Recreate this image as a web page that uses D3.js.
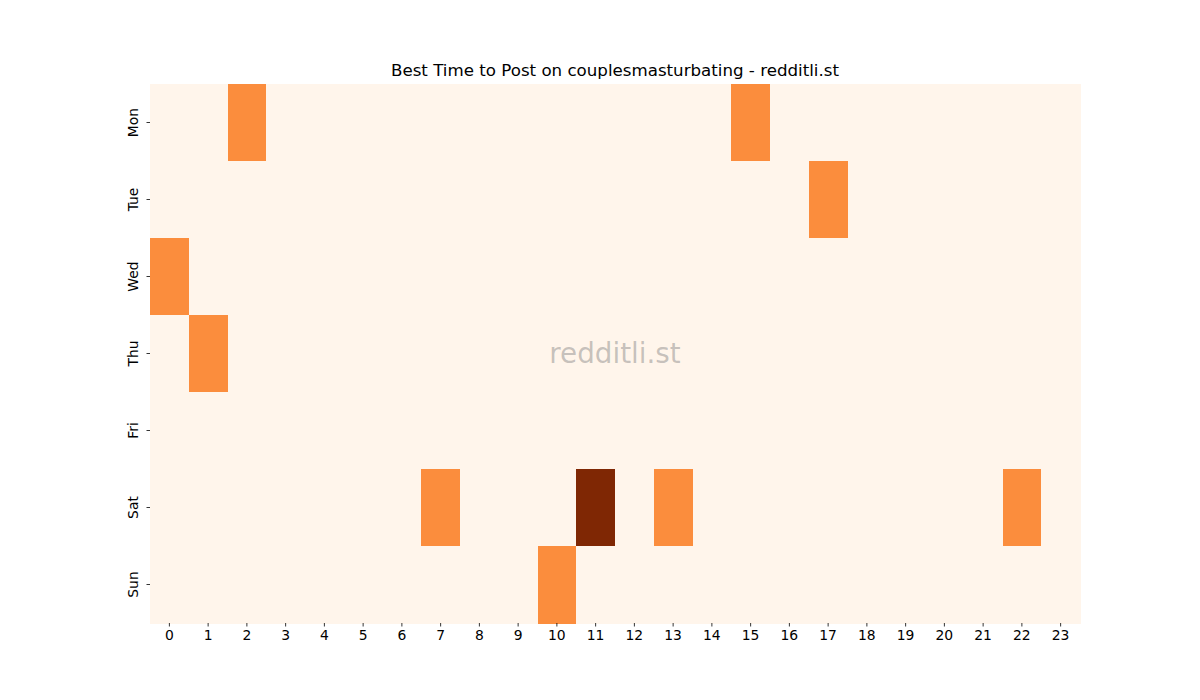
<!DOCTYPE html>
<html>
<head>
<meta charset="utf-8">
<script src="https://cdn.jsdelivr.net/npm/d3@7"></script>
<style>
  body { margin: 0; background: #fff; }
  text { font-family: "DejaVu Sans", sans-serif; }
</style>
</head>
<body>
<svg id="chart" width="1200" height="700"></svg>
<script>
let days = ['Mon', 'Tue', 'Wed', 'Thu', 'Fri', 'Sat', 'Sun'];
let hours = d3.range(24);
// counts per day, one value per hour
let mon = [0,0,1,0,0,0,0,0,0,0,0,0,0,0,0,1,0,0,0,0,0,0,0,0];
let tue = [0,0,0,0,0,0,0,0,0,0,0,0,0,0,0,0,0,1,0,0,0,0,0,0];
let wed = [1,0,0,0,0,0,0,0,0,0,0,0,0,0,0,0,0,0,0,0,0,0,0,0];
let thu = [0,1,0,0,0,0,0,0,0,0,0,0,0,0,0,0,0,0,0,0,0,0,0,0];
let fri = [0,0,0,0,0,0,0,0,0,0,0,0,0,0,0,0,0,0,0,0,0,0,0,0];
let sat = [0,0,0,0,0,0,0,1,0,0,0,2,0,1,0,0,0,0,0,0,0,0,1,0];
let sun = [0,0,0,0,0,0,0,0,0,0,1,0,0,0,0,0,0,0,0,0,0,0,0,0];
let counts = [mon, tue, wed, thu, fri, sat, sun];

let svg = d3.select('#chart');
let margin = {left: 150, right: 120, top: 84, bottom: 77};
let width = 1200 - margin.left - margin.right,
    height = 700 - margin.top - margin.bottom;

let x = d3.scaleBand().domain(hours).range([0, width]);
let y = d3.scaleBand().domain(days).range([0, height]);
let color = d3.scaleSequential(d3.interpolateOranges).domain([0, d3.max(counts.flat())]);

let g = svg.append('g').attr('transform', `translate(${margin.left},${margin.top})`);

let cells = [];
counts.forEach(function(row, i) {
    row.forEach(function(v, j) {
        cells.push({day: days[i], hour: hours[j], value: v});
    });
});

g.selectAll('rect')
    .data(cells)
    .join('rect')
    .attr('x', d => x(d.hour))
    .attr('y', d => y(d.day))
    .attr('width', x.bandwidth() + 0.5)
    .attr('height', y.bandwidth() + 0.5)
    .attr('fill', d => color(d.value))
    .attr('shape-rendering', 'crispEdges');

// axes
let xAxis = g.append('g')
    .attr('transform', `translate(0,${height})`)
    .call(d3.axisBottom(x).tickSize(3.5).tickPadding(3.5));
let yAxis = g.append('g')
    .call(d3.axisLeft(y).tickSize(3.5).tickPadding(3.5));

[xAxis, yAxis].forEach(function(a) {
    a.select('.domain').remove();
    a.selectAll('.tick line').attr('stroke', '#000').attr('stroke-width', 0.8);
    a.selectAll('.tick text').attr('fill', '#000').style('font-size', '13.9px')
        .style('font-family', '"DejaVu Sans", sans-serif');
});

yAxis.selectAll('.tick text')
    .attr('transform', 'rotate(-90)')
    .attr('x', 0)
    .attr('y', -12.5)
    .attr('dy', 0)
    .attr('text-anchor', 'middle');

// title
svg.append('text')
    .attr('x', margin.left + width / 2)
    .attr('y', margin.top - 8)
    .attr('text-anchor', 'middle')
    .style('font-size', '16.67px')
    .text('Best Time to Post on couplesmasturbating - redditli.st');

// watermark
svg.append('text')
    .attr('x', margin.left + width / 2)
    .attr('y', margin.top + height / 2 + 9.5)
    .attr('text-anchor', 'middle')
    .attr('fill', '#808080')
    .attr('fill-opacity', 0.45)
    .style('font-size', '27.8px')
    .text('redditli.st');
</script>
</body>
</html>
